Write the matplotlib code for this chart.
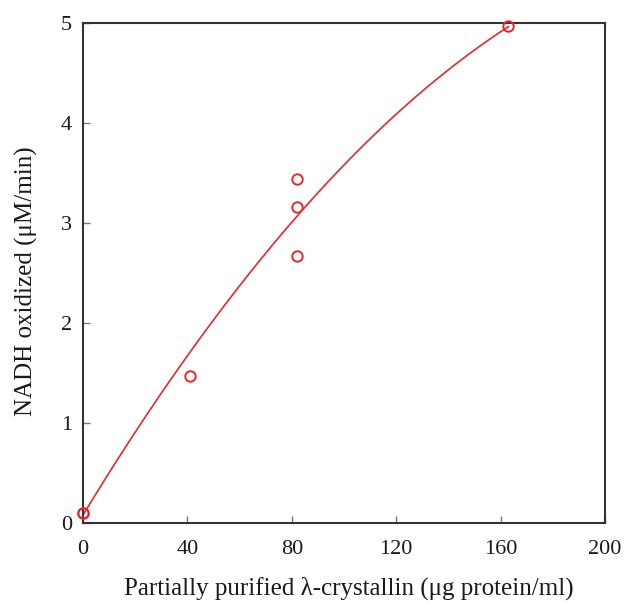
import numpy as np
import matplotlib
matplotlib.use('Agg')
from matplotlib import pyplot as plt

plt.rcParams['font.family'] = ['Liberation Serif', 'DejaVu Serif']

# measured rates
protein = [0, 0, 41, 82, 82, 82, 163]
rate = [0.1, 0.1, 1.47, 2.67, 3.16, 3.44, 4.97]

# second-order fit: rate = a + b*x + c*x^2
fit_a = 0.08
fit_b = 0.0430
fit_c = -8.0e-5
fit_max = 163

xticks = [0, 40, 80, 120, 160, 200]
yticks = [0, 1, 2, 3, 4, 5]

red = '#e8262b'

fig = plt.figure(figsize=(6.26, 6.03), dpi=100)
ax = fig.add_axes([0.1326, 0.1327, 0.8339, 0.8292])

xs = np.linspace(0, fit_max, 200)
ax.plot(xs, fit_a + fit_b * xs + fit_c * xs ** 2, color=red, lw=1.2, zorder=2)
ax.plot(protein, rate, 'o', ms=7.5, mfc='none', mec=red, mew=1.4,
        clip_on=False, zorder=3)

ax.set_xlim(0, 200)
ax.set_ylim(0, 5)
ax.set_xticks(xticks)
ax.set_yticks(yticks)

for s in ax.spines.values():
    s.set_color('#333333')
    s.set_linewidth(1.5)

ax.tick_params(direction='in', length=5, width=1, color='#777777',
               labelsize=16, labelcolor='#1a1a1a')
ax.tick_params(axis='x', pad=12)
ax.tick_params(axis='y', pad=8)

ax.set_xlabel('Partially purified \u03bb-crystallin (\u03bcg protein/ml)',
              fontsize=18, color='#1a1a1a', va='center')
ax.set_ylabel('NADH oxidized (\u03bcM/min)', fontsize=18, color='#1a1a1a',
              va='center')
ax.xaxis.set_label_coords(0.509, -0.13)
ax.yaxis.set_label_coords(-0.109, 0.484)

plt.savefig('out.png', dpi=100)
